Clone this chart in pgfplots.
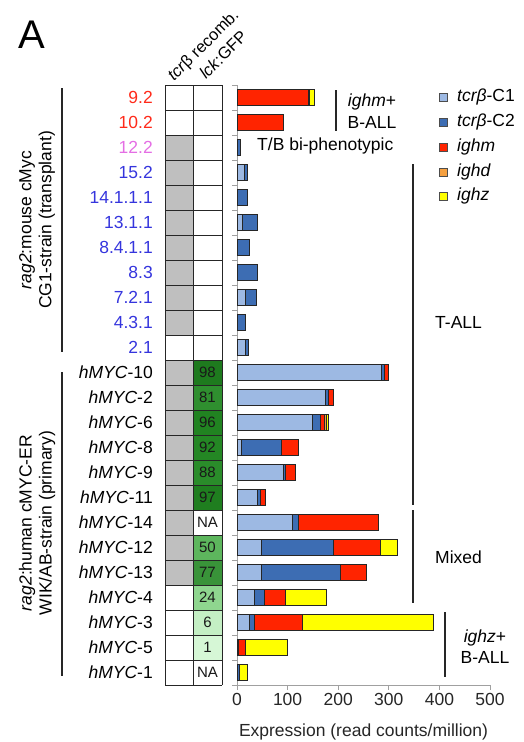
\documentclass[border=0pt]{standalone}
\usepackage{fontspec}
\setmainfont{Liberation Sans}
\usepackage{pgfplots}
\usepackage{pgfplotstable}
\pgfplotsset{compat=1.18}
\definecolor{cA}{HTML}{9DB9E3}
\definecolor{cB}{HTML}{3D6DB3}
\definecolor{cM}{HTML}{FF2400}
\definecolor{cD}{HTML}{F5A040}
\definecolor{cZ}{HTML}{FFFF00}
\definecolor{cellgray}{HTML}{BFBFBF}
\definecolor{lred}{HTML}{FF2A1A}
\definecolor{lpink}{HTML}{E46EE4}
\definecolor{lblue}{HTML}{3535DD}
\definecolor{axgray}{HTML}{A0A0A0}
% rows: y = 23 - (row index from top)
\pgfplotstableread{
y  c1  c2  m   d  z
23 0   0   141 3  9
22 0   0   92  0  0
21 0   6   0   0  0
20 15  6   0   0  0
19 0   21  0   0  0
18 10  30  0   0  0
17 0   24  0   0  0
16 0   40  0   0  0
15 16  22  0   0  0
14 0   16  0   0  0
13 17  6   0   0  0
12 285 7   8   0  0
11 175 6   10  0  0
10 149 16  8   3  5
9  8   80  33  0  0
8  92  3   21  0  0
7  41  6   10  0  0
6  109 12  158 0  0
5  49  141 93  0  35
4  49  155 51  0  0
3  34  21  40  0  81
2  24  10  95  0  260
1  2   0   14  0  84
0  0   4   0   0  17
}\data
\newcommand{\fs}{\fontsize{17.5}{21}\selectfont}
\begin{document}
\begin{tikzpicture}
\path[use as bounding box] (0pt,0pt) rectangle (523pt,-742pt);
\begin{axis}[
  at={(237pt,-685pt)}, anchor=south west,
  scale only axis, width=253pt, height=600pt,
  xbar stacked, bar width=16pt,
  xmin=0, xmax=500, ymin=-0.5, ymax=23.5,
  axis x line*=bottom, axis y line*=left,
  axis line style={draw=axgray, line width=1pt, -},
  xtick={0,100,...,500},
  ytick={-0.5,0.5,...,23.5}, yticklabels={},
  tick align=outside, major tick length=5pt,
  tick style={draw=axgray, line width=1pt},
  xticklabel style={font=\fs, text=black!85},
  /pgf/number format/assume math mode=true,
  xlabel={Expression (read counts/million)},
  xlabel style={font=\fs, text=black!85, at={(axis description cs:0.5,0)}, anchor=center, inner sep=0pt, yshift=-47pt},
  every axis plot/.append style={draw=black!85, line width=0.9pt},
]
\addplot[fill=cA] table[x=c1,y=y] {\data};
\addplot[fill=cB] table[x=c2,y=y] {\data};
\addplot[fill=cM] table[x=m,y=y] {\data};
\addplot[fill=cD] table[x=d,y=y] {\data};
\addplot[fill=cZ] table[x=z,y=y] {\data};
\end{axis}
\begin{scope}[x=1pt,y=-1pt]
% panel letter
\node[font=\fontsize{40}{44}\selectfont] at (32,35) {A};
% top rotated labels
\node[rotate=45, anchor=base west, font=\fontsize{16.5}{19}\selectfont, inner sep=0pt] at (174,82) {\textit{tcr}β recomb.};
\node[rotate=45, anchor=base west, font=\fontsize{16.5}{19}\selectfont, inner sep=0pt] at (206,80) {\textit{lck}:GFP};
% grid cells
\foreach \i in {2,...,9,11,12,...,19} {
  \fill[cellgray] (165,{85+25*\i}) rectangle (193,{110+25*\i});
}
\foreach \i/\c/\t in {11/1E7A1E/98,12/2F8F2F/81,13/218321/96,14/248724/92,15/2A8C2A/88,16/1F7E1F/97,17/FFFFFF/NA,18/5DB65D/50,19/399339/77,20/8FD68F/24,21/C4EFC4/6,22/D6F7D6/1,23/FFFFFF/NA} {
  \definecolor{tmpc}{HTML}{\c}
  \fill[tmpc] (193,{85+25*\i}) rectangle (222,{110+25*\i});
  \node[font=\fontsize{15}{17}\selectfont, text=black!90] at (207.5,{97.5+25*\i}) {\t};
}
\foreach \i in {0,...,24} { \draw[black!85, line width=0.8pt] (165,{85+25*\i}) -- (222,{85+25*\i}); }
\draw[black!85, line width=0.8pt] (165,85) -- (165,685) (193,85) -- (193,685) (222,85) -- (222,685);
% row labels
\foreach \i/\l/\c in {0/9.2/lred,1/10.2/lred,2/12.2/lpink,3/15.2/lblue,4/14.1.1.1/lblue,5/13.1.1/lblue,6/8.4.1.1/lblue,7/8.3/lblue,8/7.2.1/lblue,9/4.3.1/lblue,10/2.1/lblue} {
  \node[anchor=east, font=\fs, text=\c, inner sep=0pt] at (153,{97.5+25*\i}) {\l};
}
\foreach \i/\l in {11/10,12/2,13/6,14/8,15/9,16/11,17/14,18/12,19/13,20/4,21/3,22/5,23/1} {
  \node[anchor=east, font=\fs, inner sep=0pt] at (153,{97.5+25*\i}) {\textit{hMYC}-\l};
}
% left group labels
\draw[black!85, line width=1.2pt] (62,88) -- (62,352);
\draw[black!85, line width=1.2pt] (62,372) -- (62,676);
\node[rotate=90, align=center, font=\fontsize{17.5}{20}\selectfont] at (37,220) {\textit{rag2}:mouse cMyc\\CG1-strain (transplant)};
\node[rotate=90, align=center, font=\fontsize{17.5}{20}\selectfont] at (37,523) {\textit{rag2}:human cMYC-ER\\WIK/AB-strain (primary)};
% right annotations
\draw[black!85, line width=1.2pt] (336,90) -- (336,131);
\node[align=center, font=\fontsize{17.5}{22}\selectfont] at (372,111) {\textit{ighm}+\\B-ALL};
\node[anchor=west, font=\fs, inner sep=0pt] at (257,146) {T/B bi-phenotypic};
\draw[black!85, line width=1.2pt] (413,164) -- (413,505);
\node[anchor=west, font=\fs, inner sep=0pt] at (435,322) {T-ALL};
\draw[black!85, line width=1.2pt] (413,510) -- (413,603);
\node[anchor=west, font=\fs, inner sep=0pt] at (435,557) {Mixed};
\draw[black!85, line width=1.2pt] (445,612) -- (445,677);
\node[align=center, font=\fs] at (485,647) {\textit{ighz}+\\B-ALL};
% legend
\foreach \y/\c/\t in {97/cA/{\textit{tcrβ}-C1},122/cB/{\textit{tcrβ}-C2},147/cM/{\textit{ighm}},172/cD/{\textit{ighd}},196/cZ/{\textit{ighz}}} {
  \filldraw[fill=\c, draw=black!70, line width=0.6pt] (439,{\y-4}) rectangle (447,{\y+4});
  \node[anchor=west, font=\fs, inner sep=0pt] at (457,\y) {\t};
}
\end{scope}
\end{tikzpicture}
\end{document}
